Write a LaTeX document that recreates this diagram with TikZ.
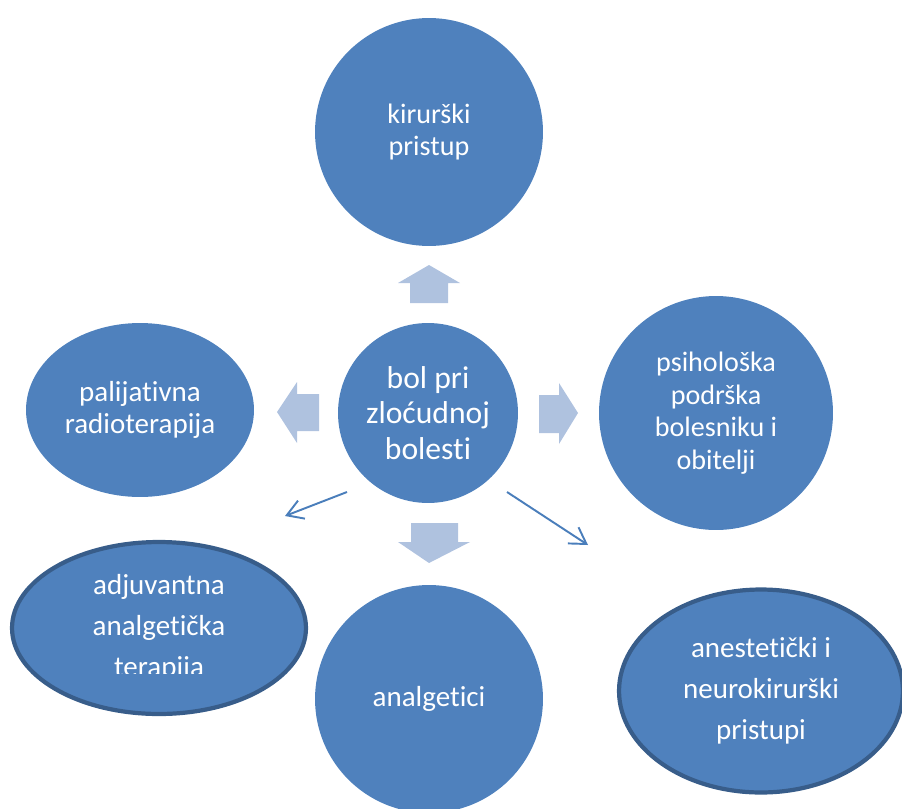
\documentclass[tikz,border=0pt]{standalone}
\usepackage{fontspec}
\setmainfont{Carlito}[RawFeature={-liga;-clig;-calt;-dlig}]
\usetikzlibrary{shapes.geometric}
\usetikzlibrary{arrows.meta}
\usepackage{xcolor}

\definecolor{blob}{HTML}{4F81BD}
\definecolor{blobline}{HTML}{385D8A}
\definecolor{pale}{HTML}{AFC2DF}
\definecolor{thinblue}{HTML}{4A7EBB}

\tikzset{
  topic/.style={circle, fill=blob, text=white, inner sep=0, align=center, font=\fontsize{16}{18.5}\selectfont},
  oval/.style={ellipse, fill=blob, text=white, inner sep=0, align=center, font=\fontsize{16.5}{18.5}\selectfont},
  ring/.style={draw=blobline, line width=2.4pt},
  wide/.style={font=\fontsize{16.5}{23.3}\selectfont},
  block/.style={fill=pale},
  pointer/.style={draw=thinblue, line width=1.1pt, -{Straight Barb[length=9pt,width=11pt]}}
}

\begin{document}
\begin{tikzpicture}[x=0.02cm, y=-0.02cm]
\useasboundingbox (0,0) rectangle (902,808);
\clip (0,0) rectangle (902,808);
% centre and the six topics
\node[topic, minimum size=3.6cm, font=\fontsize{18}{20}\selectfont] (bol) at (428,413) {bol pri\\zloćudnoj\\bolesti};
\node[topic, minimum size=4.56cm] (kir) at (429,132) {kirurški\\pristup};
\node[topic, minimum size=4.68cm] (psi) at (716,413) {psihološka\\podrška\\bolesniku i\\obitelji};
\node[topic, minimum size=4.56cm, font=\fontsize{16.5}{18.5}\selectfont] (ana) at (429,699) {analgetici};
\node[oval, minimum width=4.56cm, minimum height=3.48cm] (rad) at (140,410) {palijativna\\radioterapija};
\node[oval, ring, minimum width=5.88cm, minimum height=3.44cm] (adj) at (159,628) {};
\node[oval, ring, wide, minimum width=5.68cm, minimum height=4.06cm] (ane) at (761,691) {anestetički i\\neurokirurški\\pristupi};
\begin{scope}
\clip (0,0) rectangle (902,673);
\node[oval, wide, fill=none] (adjtxt) at (adj.center) {adjuvantna\\analgetička\\terapija};
\end{scope}
% block arrows
\fill[block] (398,283) -- (429,265) -- (460,283) -- (448,283) -- (448,303) -- (410,303) -- (410,283) -- cycle;
\fill[block] (277,412) -- (297,382) -- (297,394) -- (319,394) -- (319,431) -- (297,431) -- (297,443) -- cycle;
\fill[block] (539,395) -- (559,395) -- (559,383) -- (578,413) -- (559,444) -- (559,433) -- (539,433) -- cycle;
\fill[block] (411,523) -- (458,523) -- (458,542) -- (470,542) -- (429,563) -- (398,542) -- (411,542) -- cycle;
% thin arrows
\coordinate (tailL) at (347,492);
\coordinate (tipL) at (285,516);
\coordinate (tailR) at (507,492);
\coordinate (tipR) at (588,545);
\draw[pointer] (tailL) -- (tipL);
\draw[pointer] (tailR) -- (tipR);
\end{tikzpicture}
\end{document}
